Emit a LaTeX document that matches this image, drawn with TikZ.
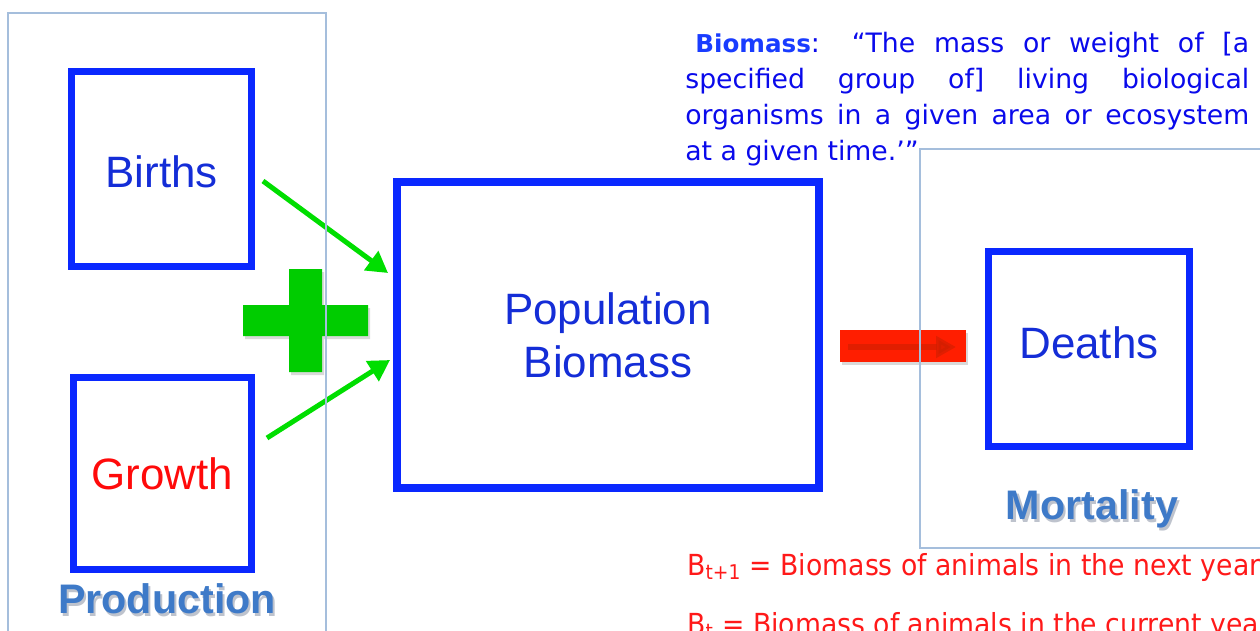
\documentclass[tikz,border=0pt]{standalone}
\usepackage{fontspec}
\setmainfont{Liberation Sans}
\newfontfamily\defnfont{DejaVu Sans}
\newfontfamily\eqfont[FakeStretch=0.92]{DejaVu Sans}
\usepackage{xcolor}
\usepackage{tikz}
\usetikzlibrary{arrows.meta,positioning,calc}

\definecolor{boxblue}{RGB}{10,40,255}
\definecolor{labelblue}{RGB}{20,45,215}
\definecolor{growthred}{RGB}{255,10,10}
\definecolor{defblue}{RGB}{10,10,235}
\definecolor{keyblue}{RGB}{25,60,255}
\definecolor{plusgreen}{RGB}{0,204,0}
\definecolor{arrowgreen}{RGB}{0,222,0}
\definecolor{blockred}{RGB}{255,30,0}
\definecolor{innerred}{RGB}{205,30,0}
\definecolor{panelgray}{RGB}{165,190,220}
\definecolor{secblue}{RGB}{62,122,200}
\definecolor{secshade}{RGB}{190,195,205}
\definecolor{eqred}{RGB}{255,25,25}

\newcommand{\shadedlabel}[1]{\rlap{\kern1.2pt\raisebox{-1.6pt}{\textcolor{secshade}{#1}}}#1}

\begin{document}
\begin{tikzpicture}[x=0.02cm,y=-0.02cm,>=Latex,
  flowbox/.style={draw=boxblue,line width=0.14cm,inner sep=0pt,text=labelblue,
    font=\fontsize{25}{30}\selectfont},
  gainarrow/.style={-{Triangle[length=0.42cm,width=0.46cm]},line width=0.1cm,draw=arrowgreen},
  panel/.style={draw=panelgray,line width=0.8pt},
  seclabel/.style={font=\fontsize{23.5}{28}\selectfont\bfseries,text=secblue},
  eqline/.style={anchor=base west,inner sep=0pt,text=eqred,font=\eqfont\fontsize{16.5}{20}\selectfont}]
  \useasboundingbox (0,0) rectangle (1260,630);
  \clip (0,0) rectangle (1260,630);

  % boxes
  \node[flowbox,minimum width=3.6cm,minimum height=3.9cm,text height=0.76cm] (births) at (161.5,169) {Births};
  \node[flowbox,minimum width=3.56cm,minimum height=3.84cm,text=growthred] (growth) at (162.5,473.5) {Growth};
  \node[flowbox,line width=0.16cm,minimum width=8.44cm,minimum height=6.12cm,align=center] (pop) at (608,335) {Population\\Biomass};
  \node[flowbox,minimum width=4.02cm,minimum height=3.9cm,text depth=0.25cm] (deaths) at (1089,349) {Deaths};

  % plus sign
  \fill[black,opacity=0.15] (245,308) rectangle (370,339) (291,272) rectangle (324,375);
  \fill[plusgreen] (243,305) rectangle (368,336) (289,269) rectangle (322,372);

  % inflow arrows
  \draw[gainarrow] ([shift={(8,12)}]births.east) -- ([shift={(-5,-62)}]pop.west);
  \draw[gainarrow] ([shift={(12,-35.5)}]growth.east) -- ([shift={(-3,25)}]pop.west);

  % outflow block arrow
  \fill[black,opacity=0.15] (842,333) rectangle (968,365);
  \fill[blockred] (840,330) rectangle (966,362);
  \draw[innerred,opacity=0.6,line width=0.13cm,-{Triangle[length=0.4cm,width=0.42cm]}] (848,347) -- (956,347);

  % panels
  \draw[panel] (8,13) rectangle (326,650);
  \draw[panel] (920,149) rectangle (1264,548);
  \node[seclabel] (production) at (167,600) {\shadedlabel{Production}};
  \node[seclabel] (mortality) at (1092,510) {\shadedlabel{Mortality}};

  % definition
  \node[anchor=north west,inner sep=0pt,text width=11.28cm,align=justify,text=defblue,
    font=\defnfont\fontsize{15.2}{20.4}\selectfont] (biomassdef) at (685,32)
    {\hspace*{0.2cm}{\fontsize{14}{20.4}\selectfont\bfseries\color{keyblue}Biomass}: “The mass or weight of [a\linebreak
     specified group of] living biological\linebreak
     organisms in a given area or ecosystem\linebreak
     at a given time.’”};

  % equations
  \node[eqline] (nextyear) at (687,575) {B\textsubscript{t+1} = Biomass of animals in the next year};
  \node[eqline] (curyear) at (687,634) {B\textsubscript{t} = Biomass of animals in the current year};
\end{tikzpicture}
\end{document}
